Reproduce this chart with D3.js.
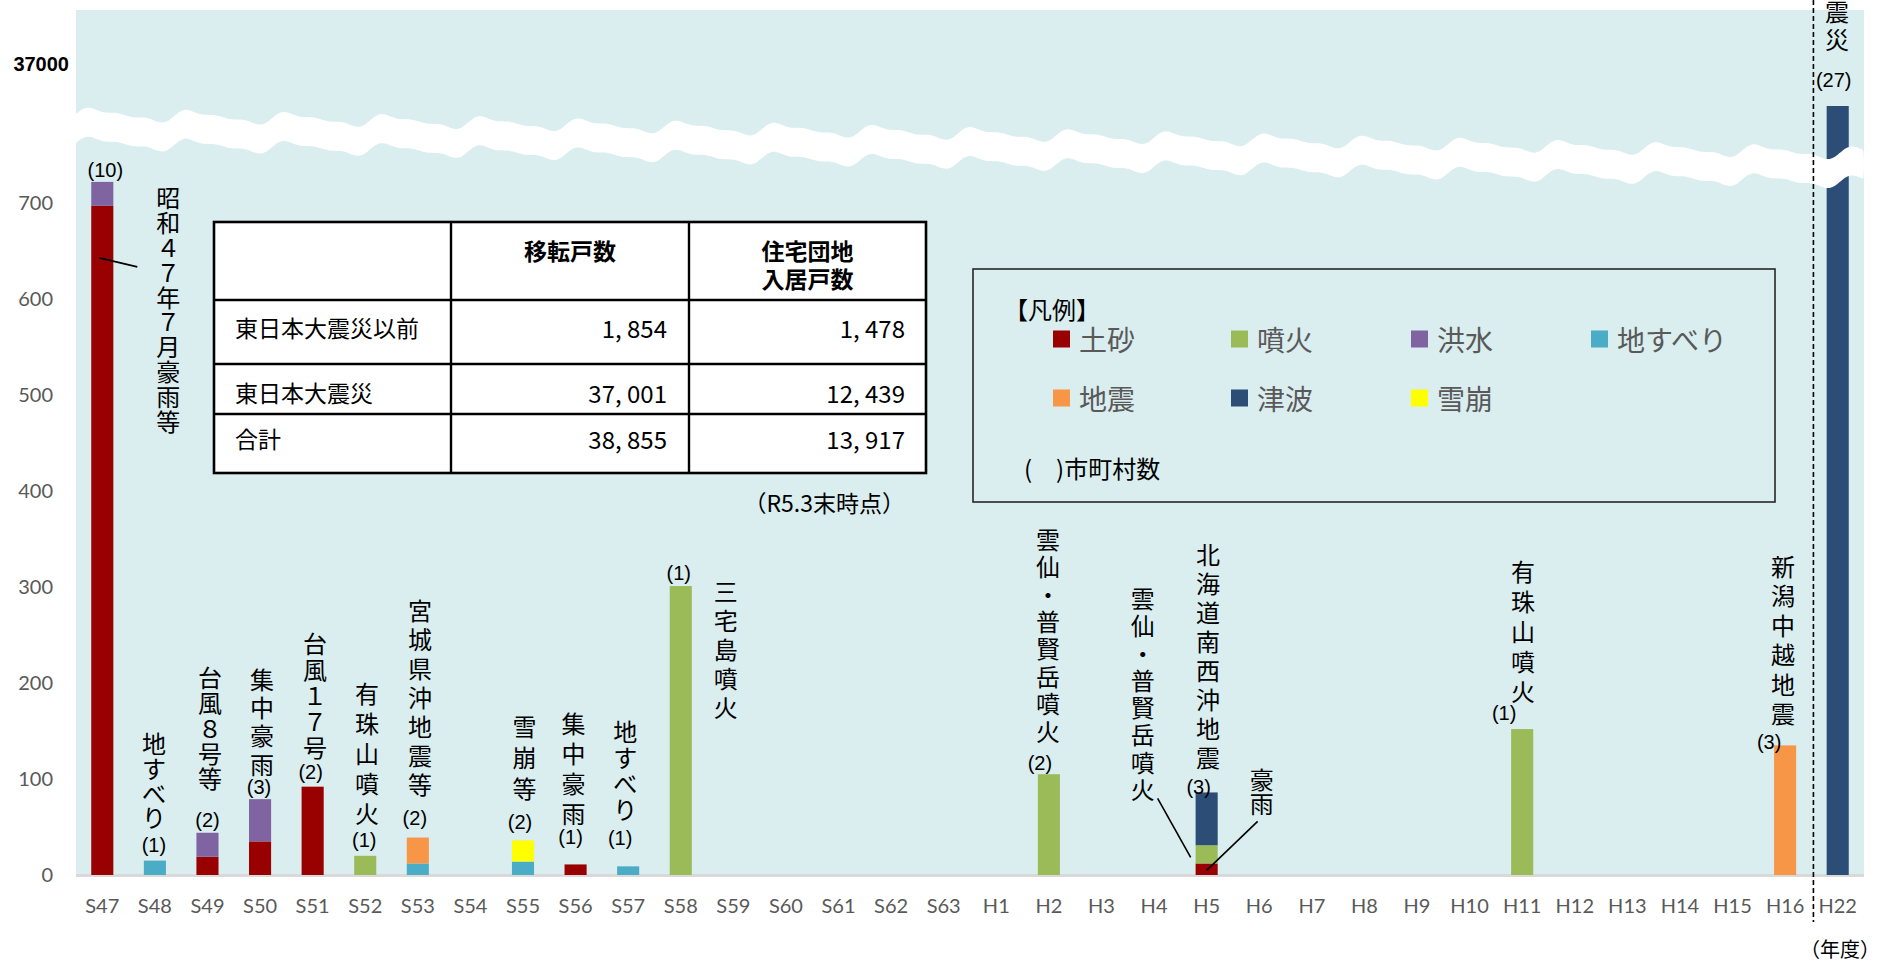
<!DOCTYPE html>
<html>
<head>
<meta charset="utf-8">
<script src="https://cdn.jsdelivr.net/npm/d3@7"></script>
<style>
  body { margin: 0; background: #ffffff; }
  svg { display: block; }
</style>
</head>
<body>
<script>
/* ---- data ---- */
const years = ["S47", "S48", "S49", "S50", "S51", "S52", "S53", "S54", "S55", "S56", "S57", "S58",
               "S59", "S60", "S61", "S62", "S63", "H1", "H2", "H3", "H4", "H5",
               "H6", "H7", "H8", "H9", "H10", "H11", "H12", "H13", "H14", "H15", "H16", "H22"]

const seriesNames = ["土砂", "噴火", "洪水", "地すべり", "地震", "津波", "雪崩"]

const sediment  = [697, 0, 19, 35, 92, 0, 0, 0, 0, 11, 0, 0,   0, 0, 0, 0, 0, 0, 0, 0, 0, 12,   0, 0, 0, 0, 0, 0, 0, 0, 0, 0, 0, 0]
const eruption  = [0, 0, 0, 0, 0, 20, 0, 0, 0, 0, 0, 301,     0, 0, 0, 0, 0, 0, 105, 0, 0, 19,  0, 0, 0, 0, 0, 152, 0, 0, 0, 0, 0, 0]
const flood     = [25, 0, 25, 44, 0, 0, 0, 0, 0, 0, 0, 0,     0, 0, 0, 0, 0, 0, 0, 0, 0, 0,     0, 0, 0, 0, 0, 0, 0, 0, 0, 0, 0, 0]
const landslide = [0, 15, 0, 0, 0, 0, 12, 0, 14, 0, 9, 0,     0, 0, 0, 0, 0, 0, 0, 0, 0, 0,     0, 0, 0, 0, 0, 0, 0, 0, 0, 0, 0, 0]
const quake     = [0, 0, 0, 0, 0, 0, 27, 0, 0, 0, 0, 0,       0, 0, 0, 0, 0, 0, 0, 0, 0, 0,     0, 0, 0, 0, 0, 0, 0, 0, 0, 0, 135, 0]
const tsunami   = [0, 0, 0, 0, 0, 0, 0, 0, 0, 0, 0, 0,        0, 0, 0, 0, 0, 0, 0, 0, 0, 55,    0, 0, 0, 0, 0, 0, 0, 0, 0, 0, 0, 37001]
const avalanche = [0, 0, 0, 0, 0, 0, 0, 0, 22, 0, 0, 0,       0, 0, 0, 0, 0, 0, 0, 0, 0, 0,     0, 0, 0, 0, 0, 0, 0, 0, 0, 0, 0, 0]

// number of municipalities ( ) per year
const towns = [10, 1, 2, 3, 2, 1, 2, null, 2, 1, 1, 1,  null, null, null, null, null, null, 2, null, null, 3,
               null, null, null, null, null, 1, null, null, null, null, 3, 27]

const yTicks = [0, 100, 200, 300, 400, 500, 600, 700]
const breakTick = 37000

// disaster names written vertically next to the bars
const eventYears = ["S47", "S48", "S49", "S50", "S51", "S52", "S53", "S55", "S56", "S57", "S58",
                    "H2", "H5", "H5", "H5", "H11", "H16", "H22"]
const eventNames = ["昭和４７年７月豪雨等", "地すべり", "台風８号等", "集中豪雨", "台風１７号", "有珠山噴火",
                    "宮城県沖地震等", "雪崩等", "集中豪雨", "地すべり", "三宅島噴火",
                    "雲仙・普賢岳噴火", "北海道南西沖地震", "雲仙・普賢岳噴火", "豪雨", "有珠山噴火", "新潟中越地震", "東日本大震災"]

const tableHead = ["", "移転戸数", "住宅団地\n入居戸数"]
const tableRowNames = ["東日本大震災以前", "東日本大震災", "合計"]
const tableMoves = ["1, 854", "37, 001", "38, 855"]
const tableHomes = ["1, 478", "12, 439", "13, 917"]
const tableNote = "（R5.3末時点）"

/* ---- styling / layout ---- */
const colors = {"土砂": "#990000", "噴火": "#9bbb59", "洪水": "#8064a2", "地すべり": "#4bacc6",
                "地震": "#f79646", "津波": "#2c4d75", "雪崩": "#ffff00"}
const fontJP = "'Noto Sans CJK JP', 'Noto Sans CJK SC', sans-serif"
const fontNum = "Lato, 'Open Sans', sans-serif"

const svgWidth = 1881
const svgHeight = 960
const plotLeft = 76
const plotRight = 1864
const plotTop = 10
const plotBottom = 875

// offsets of the "( )" label from the bar top-center
const townNudge = [[3, -12], [-1, -16], [0, -13], [-1, -12], [-2, -15], [-1, -16], [-3, -20], [0, 0], [-3, -18], [-5, -27], [-8, -28], [-2, -13],
                   [0, 0], [0, 0], [0, 0], [0, 0], [0, 0], [0, 0], [-9, -11], [0, 0], [0, 0], [-8, -5],
                   [0, 0], [0, 0], [0, 0], [0, 0], [0, 0], [-18, -16], [0, 0], [0, 0], [0, 0], [0, 0], [-16, -3], [-4, -26]]

// [dx, dy of first char, line step] from bar top-center
const eventLayout = [[66, 15, 24.8], [-1, -118, 24.7], [2.5, -156, 25.2], [2, -121, 28.3], [2.4, -144, 26], [1.8, -163, 30],
                     [2.2, -228, 29], [1.5, -115, 31], [-2, -142, 30], [-3, -136, 26], [45, 4, 29],
                     [-1, -236, 27.4], [1.3, -239, 29], [-64, -195, 27.3], [55, -14, 24.5], [0.8, -159, 30], [-2.2, -180, 29.4], [-0.7, -208, 28]]

// leader lines [year, dx1, dy1, dx2, dy2] relative to bar top-center
const leaders = [["S47", -3, 76, 35, 85], ["H5", -49, 6, -16, 65], ["H5", 51, 29, 0, 78]]

const svg = d3.select("body").append("svg")
    .attr("width", svgWidth)
    .attr("height", svgHeight)

/* ---- scales ---- */
const xScale = d3.scaleBand()
    .domain(years)
    .range([plotLeft, plotRight])
    .paddingInner(0.58)
    .paddingOuter(0.29)

// broken axis: 0-800 linear, everything above squeezed into the top
const yScale = d3.scaleLinear()
    .domain([0, 800, 37001])
    .range([plotBottom, 107, 106])

const rows = years.map((yr, i) => ({
    year: yr, "土砂": sediment[i], "噴火": eruption[i], "洪水": flood[i], "地すべり": landslide[i],
    "地震": quake[i], "津波": tsunami[i], "雪崩": avalanche[i]
}))
const totals = rows.map((r) => d3.sum(seriesNames, (k) => r[k]))
const stacked = d3.stack().keys(seriesNames)(rows)

const barCenter = (yr) => xScale(yr) + xScale.bandwidth() / 2
const barTop = (yr) => yScale(totals[years.indexOf(yr)])

/* ---- background ---- */
svg.append("rect")
    .attr("x", plotLeft).attr("y", plotTop)
    .attr("width", plotRight - plotLeft).attr("height", plotBottom - plotTop)
    .attr("fill", "#daedef")

svg.append("line")
    .attr("x1", plotLeft).attr("x2", plotRight)
    .attr("y1", plotBottom + 0.5).attr("y2", plotBottom + 0.5)
    .attr("stroke", "#d9d9d9").attr("stroke-width", 3)

/* ---- bars ---- */
svg.append("g").selectAll("g")
    .data(stacked)
    .join("g")
    .attr("fill", (d) => colors[d.key])
    .selectAll("rect")
    .data((d) => d.filter((v) => v[1] - v[0] > 0))
    .join("rect")
    .attr("x", (d) => xScale(d.data.year))
    .attr("y", (d) => yScale(d[1]))
    .attr("width", xScale.bandwidth())
    .attr("height", (d) => yScale(d[0]) - yScale(d[1]))

/* ---- wavy break band ---- */
const wavePeriod = 98
const waveY = (px) => {
    const t = 2 * Math.PI * (px - plotLeft) / wavePeriod
    return 114 + 0.022 * (px - plotLeft) - 4.6 * (Math.sin(t) + Math.sin(2 * t) / 2 + Math.sin(3 * t) / 3)
}
const waveXs = d3.range(plotLeft, plotRight + 2, 2)
const bandPts = waveXs.map((px) => [px, waveY(px)])
    .concat(waveXs.slice().reverse().map((px) => [px, waveY(px) + 29]))
svg.append("path")
    .attr("d", d3.line().curve(d3.curveBasis)(bandPts) + "Z")
    .attr("fill", "#ffffff")

/* ---- dashed separator before H22 ---- */
const sepX = (xScale("H16") + xScale.bandwidth() + xScale("H22")) / 2 + 2
svg.append("line")
    .attr("x1", sepX).attr("x2", sepX)
    .attr("y1", 0).attr("y2", 922)
    .attr("stroke", "#000").attr("stroke-width", 1.6)
    .attr("stroke-dasharray", "5,3")

/* ---- axes ---- */
const yAxis = d3.axisLeft(yScale).tickValues(yTicks).tickSize(0).tickPadding(23)
const yAxisG = svg.append("g").attr("transform", `translate(${plotLeft},0)`).call(yAxis)
yAxisG.select(".domain").remove()
yAxisG.selectAll("text")
    .attr("font-family", fontNum).attr("font-size", 20).attr("fill", "#595959")

svg.append("text")
    .attr("x", 69).attr("y", yScale(breakTick) - 42)
    .attr("text-anchor", "end").attr("dominant-baseline", "central")
    .attr("font-family", "'Liberation Sans', Arial, sans-serif").attr("font-weight", "bold")
    .attr("font-size", 20).attr("fill", "#000")
    .text(breakTick)

const xAxis = d3.axisBottom(xScale).tickSize(0).tickPadding(24)
const xAxisG = svg.append("g").attr("transform", `translate(0,${plotBottom})`).call(xAxis)
xAxisG.select(".domain").remove()
xAxisG.selectAll("text")
    .attr("font-family", fontNum).attr("font-size", 20).attr("fill", "#595959")

svg.append("text")
    .attr("x", 1880).attr("y", 948)
    .attr("text-anchor", "end").attr("dominant-baseline", "central")
    .attr("font-family", fontJP).attr("font-size", 20).attr("fill", "#000")
    .text("（年度）")

/* ---- ( ) counts ---- */
const labelG = svg.append("g")
years.forEach((yr, i) => {
    if (towns[i] === null) return
    labelG.append("text")
        .attr("x", barCenter(yr) + townNudge[i][0])
        .attr("y", barTop(yr) + townNudge[i][1])
        .attr("text-anchor", "middle").attr("dominant-baseline", "central")
        .attr("font-family", "'Liberation Sans', Arial, sans-serif").attr("font-size", 20)
        .attr("fill", "#000")
        .text(`(${towns[i]})`)
})

/* ---- vertical disaster names ---- */
eventNames.forEach((name, i) => {
    const yr = eventYears[i]
    const [dx, dy, step] = eventLayout[i]
    Array.from(name).forEach((ch, k) => {
        labelG.append("text")
            .attr("x", barCenter(yr) + dx)
            .attr("y", barTop(yr) + dy + k * step)
            .attr("text-anchor", "middle").attr("dominant-baseline", "central")
            .attr("font-family", fontJP).attr("font-size", 24).attr("fill", "#000")
            .text(ch)
    })
})

leaders.forEach((l) => {
    labelG.append("line")
        .attr("x1", barCenter(l[0]) + l[1]).attr("y1", barTop(l[0]) + l[2])
        .attr("x2", barCenter(l[0]) + l[3]).attr("y2", barTop(l[0]) + l[4])
        .attr("stroke", "#000").attr("stroke-width", 1.6)
})

/* ---- table ---- */
const colX = [214, 451, 689, 926]
const rowY = [222, 300, 364, 414, 473]
const tableG = svg.append("g")
tableG.append("rect")
    .attr("x", colX[0]).attr("y", rowY[0])
    .attr("width", colX[3] - colX[0]).attr("height", rowY[4] - rowY[0])
    .attr("fill", "#fff").attr("stroke", "#000").attr("stroke-width", 2.6)
colX.slice(1, 3).forEach((cx) => {
    tableG.append("line").attr("x1", cx).attr("x2", cx).attr("y1", rowY[0]).attr("y2", rowY[4])
        .attr("stroke", "#000").attr("stroke-width", 2.4)
})
rowY.slice(1, 4).forEach((ry) => {
    tableG.append("line").attr("x1", colX[0]).attr("x2", colX[3]).attr("y1", ry).attr("y2", ry)
        .attr("stroke", "#000").attr("stroke-width", 2.4)
})
tableHead.forEach((h, c) => {
    h.split("\n").forEach((line, k) => {
        tableG.append("text")
            .attr("x", (colX[c] + colX[c + 1]) / 2).attr("y", 250 + k * 28)
            .attr("text-anchor", "middle").attr("dominant-baseline", "central")
            .attr("font-family", fontJP).attr("font-weight", "bold").attr("font-size", 23)
            .text(line)
    })
})
const rowTextY = [327, 392, 438]
tableRowNames.forEach((name, r) => {
    tableG.append("text")
        .attr("x", colX[0] + 21).attr("y", rowTextY[r])
        .attr("dominant-baseline", "central")
        .attr("font-family", fontJP).attr("font-size", 23)
        .text(name)
    tableG.append("text")
        .attr("x", colX[2] - 22).attr("y", rowTextY[r])
        .attr("text-anchor", "end").attr("dominant-baseline", "central")
        .attr("font-family", fontJP).attr("font-size", 24)
        .text(tableMoves[r])
    tableG.append("text")
        .attr("x", colX[3] - 21).attr("y", rowTextY[r])
        .attr("text-anchor", "end").attr("dominant-baseline", "central")
        .attr("font-family", fontJP).attr("font-size", 24)
        .text(tableHomes[r])
})
tableG.append("text")
    .attr("x", colX[3] - 21).attr("y", 502)
    .attr("text-anchor", "end").attr("dominant-baseline", "central")
    .attr("font-family", fontJP).attr("font-size", 23)
    .text(tableNote)

/* ---- legend ---- */
const legendG = svg.append("g")
legendG.append("rect")
    .attr("x", 973).attr("y", 269).attr("width", 802).attr("height", 233)
    .attr("fill", "none").attr("stroke", "#262626").attr("stroke-width", 1.6)
legendG.append("text")
    .attr("x", 1004).attr("y", 308).attr("dominant-baseline", "central")
    .attr("font-family", fontJP).attr("font-size", 24).attr("fill", "#000")
    .text("【凡例】")
const legendColX = [1053, 1231, 1411, 1591]
const legendRowY = [339, 398]
seriesNames.forEach((name, i) => {
    const lx = legendColX[i % 4]
    const ly = legendRowY[Math.floor(i / 4)]
    legendG.append("rect")
        .attr("x", lx).attr("y", ly - 8.5).attr("width", 17).attr("height", 17)
        .attr("fill", colors[name])
    legendG.append("text")
        .attr("x", lx + 26).attr("y", ly).attr("dominant-baseline", "central")
        .attr("font-family", fontJP).attr("font-size", 28).attr("fill", "#595959")
        .text(name)
})
legendG.append("text")
    .attr("x", 1024).attr("y", 467).attr("dominant-baseline", "central")
    .attr("font-family", fontJP).attr("font-size", 24).attr("fill", "#000")
    .text("(　)市町村数")
</script>
</body>
</html>
